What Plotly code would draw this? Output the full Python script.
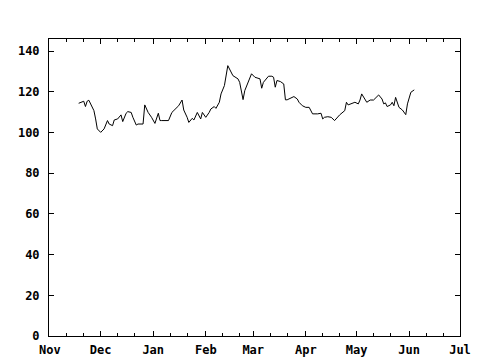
import plotly.graph_objects as go

dates = [
    "2001-11-18", "2001-11-21", "2001-11-22", "2001-11-23", "2001-11-24", "2001-11-25",
    "2001-11-27", "2001-11-28", "2001-11-29", "2001-12-01", "2001-12-03", "2001-12-05",
    "2001-12-06", "2001-12-08", "2001-12-09", "2001-12-11", "2001-12-13", "2001-12-14",
    "2001-12-16", "2001-12-17", "2001-12-19", "2001-12-20", "2001-12-22", "2001-12-23",
    "2001-12-26", "2001-12-27", "2001-12-29", "2001-12-31", "2002-01-02", "2002-01-04",
    "2002-01-05", "2002-01-06", "2002-01-10", "2002-01-12", "2002-01-14", "2002-01-16",
    "2002-01-18", "2002-01-19", "2002-01-21", "2002-01-22", "2002-01-24", "2002-01-25",
    "2002-01-27", "2002-01-29", "2002-01-30", "2002-02-01", "2002-02-03", "2002-02-04",
    "2002-02-06", "2002-02-07", "2002-02-09", "2002-02-10", "2002-02-12", "2002-02-14",
    "2002-02-17", "2002-02-20", "2002-02-21", "2002-02-23", "2002-02-24", "2002-02-26",
    "2002-02-28", "2002-03-02", "2002-03-05", "2002-03-06", "2002-03-07", "2002-03-10",
    "2002-03-12", "2002-03-13", "2002-03-14", "2002-03-15", "2002-03-17", "2002-03-19",
    "2002-03-20", "2002-03-21", "2002-03-23", "2002-03-25", "2002-03-27", "2002-03-28",
    "2002-03-30", "2002-04-01", "2002-04-03", "2002-04-05", "2002-04-08", "2002-04-10",
    "2002-04-11", "2002-04-12", "2002-04-14", "2002-04-16", "2002-04-18", "2002-04-21",
    "2002-04-24", "2002-04-25", "2002-04-26", "2002-04-28", "2002-04-30", "2002-05-02",
    "2002-05-03", "2002-05-04", "2002-05-06", "2002-05-07", "2002-05-09", "2002-05-11",
    "2002-05-14", "2002-05-16", "2002-05-17", "2002-05-18", "2002-05-19", "2002-05-21",
    "2002-05-22", "2002-05-23", "2002-05-24", "2002-05-26", "2002-05-28", "2002-05-30",
    "2002-05-31", "2002-06-02", "2002-06-04",
]

values = [
    114.4, 115.4, 112.8, 115.4, 115.9, 114.1,
    110.8, 106.7, 101.8, 100.1, 101.8, 105.9,
    104.2, 103.4, 106.2, 106.7, 108.7, 105.4,
    109.5, 110.3, 109.9, 107.5, 103.7, 104.2,
    104.2, 113.6, 109.9, 107.5, 104.5, 109.5,
    105.9, 105.9, 105.9, 109.9, 111.6, 113.2,
    116.0, 111.1, 107.5, 105.0, 107.0, 106.2,
    109.9, 106.7, 109.9, 107.5, 109.9, 111.6,
    112.8, 111.9, 114.9, 119.0, 123.1, 132.9,
    128.0, 126.4, 124.7, 116.2, 120.6, 124.7,
    128.9, 127.2, 126.4, 121.8, 124.7, 127.7,
    127.7, 127.2, 122.3, 125.6, 125.1, 123.9,
    116.1, 116.1, 116.8, 117.7, 116.5, 114.9,
    113.2, 112.4, 112.4, 109.2, 109.2, 109.5,
    106.7, 107.5, 107.8, 107.5, 105.9, 108.7,
    110.8, 114.9, 113.6, 114.1, 114.9, 114.1,
    116.0, 119.0, 116.5, 114.9, 116.0, 116.0,
    118.5, 116.5, 114.1, 114.6, 112.8, 113.6,
    114.9, 113.2, 117.3, 112.4, 111.1, 108.8,
    114.1, 119.8, 121.0,
]

month_ticks = ["2001-11-01", "2001-12-01", "2002-01-01", "2002-02-01", "2002-03-01",
               "2002-04-01", "2002-05-01", "2002-06-01", "2002-07-01"]
month_labels = ["Nov", "Dec", "Jan", "Feb", "Mar", "Apr", "May", "Jun", "Jul"]
minor_ticks = [m[:8] + d for m in month_ticks[:-1] for d in ("11", "21")]
y_ticks = [0, 20, 40, 60, 80, 100, 120, 140]

font = dict(family="DejaVu Sans Mono", size=12, color="black", weight="bold")

fig = go.Figure(go.Scatter(x=dates, y=values, mode="lines",
                           line=dict(color="black", width=1)))

fig.update_layout(
    width=473, height=353,
    margin=dict(l=41, r=21, t=31, b=25, autoexpand=False),
    paper_bgcolor="white", plot_bgcolor="white",
    showlegend=False, font=font,
)
fig.update_xaxes(
    type="date", range=["2001-10-31 12:00", "2002-07-01"],
    tickmode="array", tickvals=month_ticks, ticktext=month_labels,
    ticks="inside", ticklen=5, tickcolor="black", tickwidth=1,
    showline=True, linecolor="black", linewidth=1, mirror="ticks",
    showgrid=False, zeroline=False, tickfont=font, ticklabelstandoff=3,
    minor=dict(tickmode="array", tickvals=minor_ticks, ticks="inside",
               ticklen=3, tickcolor="black", showgrid=False),
)
fig.update_yaxes(
    range=[0, 146], tickmode="array", tickvals=y_ticks,
    ticks="inside", ticklen=5, tickcolor="black", tickwidth=1,
    showline=True, linecolor="black", linewidth=1, mirror="ticks",
    showgrid=False, zeroline=False, tickfont=font, ticklabelstandoff=6,
)

fig.write_html("out.html")
